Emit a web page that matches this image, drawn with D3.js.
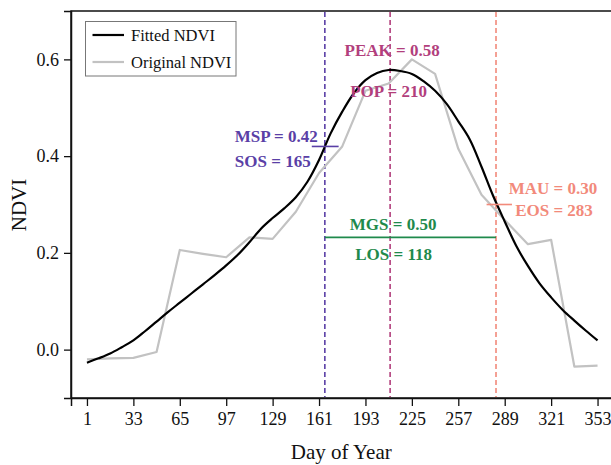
<!DOCTYPE html>
<html>
<head>
<meta charset="utf-8">
<script src="https://cdn.jsdelivr.net/npm/d3@7/dist/d3.min.js"></script>
<style>
  html, body { margin: 0; padding: 0; background: #fff; }
  svg { display: block; font-family: "Liberation Serif", "Times New Roman", serif; }
</style>
</head>
<body>
<svg id="chart" width="611" height="465"></svg>
<script>
// Original 16-day composite NDVI
const origDays = [1, 17, 33, 49, 65, 81, 97, 113, 129, 145, 161, 177, 193, 209, 225, 241, 257, 273, 289, 305, 321, 337, 353];
const origNdvi = [-0.020, -0.018, -0.017, -0.005, 0.206, 0.198, 0.191, 0.232, 0.229, 0.285, 0.365, 0.420, 0.535, 0.550, 0.600, 0.570, 0.415, 0.320, 0.268, 0.218, 0.227, -0.035, -0.033];

// Fitted NDVI curve (8-day steps)
const fitDays = [1, 9, 17, 25, 33, 41, 49, 57, 65, 73, 81, 89, 97, 105, 113, 121, 129, 137, 145, 153, 161, 169, 177, 185, 193, 201, 209, 217, 225, 233, 241, 249, 257, 265, 273, 281, 289, 297, 305, 313, 321, 329, 337, 345, 353];
const fitNdvi = [-0.027, -0.018, -0.008, 0.005, 0.019, 0.038, 0.058, 0.078, 0.097, 0.116, 0.135, 0.154, 0.174, 0.196, 0.222, 0.250, 0.272, 0.292, 0.315, 0.347, 0.392, 0.447, 0.492, 0.530, 0.557, 0.572, 0.578, 0.576, 0.570, 0.555, 0.535, 0.508, 0.472, 0.434, 0.378, 0.318, 0.265, 0.214, 0.173, 0.137, 0.108, 0.082, 0.060, 0.039, 0.019];

// Phenology metrics
const sos = 165, msp = 0.42;
const pop = 210, peak = 0.58;
const eos = 283, mau = 0.30;
const los = 118, mgs = 0.50;

const xTicks = [1, 33, 65, 97, 129, 161, 193, 225, 257, 289, 321, 353];
const yTicks = [0.0, 0.2, 0.4, 0.6];

const colSos = "#5a3fa6", colPop = "#b23f7d", colEos = "#f28a7b", colLos = "#1f8a4c";

const svg = d3.select("#chart");
const plotL = 71, plotT = 11, plotB = 398, plotR = 613.5;

const x = d3.scaleLinear().domain([-10, 364]).range([plotL, plotR]);
const y = d3.scaleLinear().domain([-0.1, 0.7]).range([plotB, plotT]);

// Frame
svg.append("rect")
  .attr("x", plotL).attr("y", plotT)
  .attr("width", plotR - plotL).attr("height", plotB - plotT)
  .attr("fill", "none").attr("stroke", "#111").attr("stroke-width", 1.5);

// Axes
const xAxis = svg.append("g")
  .attr("transform", `translate(0,${plotB})`)
  .call(d3.axisBottom(x).tickValues(xTicks).tickSize(8).tickPadding(6).tickFormat(d3.format("d")));
const yAxis = svg.append("g")
  .attr("transform", `translate(${plotL},0)`)
  .call(d3.axisLeft(y).tickValues(yTicks).tickSize(7).tickPadding(5).tickFormat(d3.format(".1f")));
[xAxis, yAxis].forEach(g => {
  g.select(".domain").attr("stroke", "#111").attr("stroke-width", 1.5);
  g.selectAll(".tick line").attr("stroke", "#111").attr("stroke-width", 1.3);
  g.selectAll(".tick text").attr("fill", "#111")
    .style("font-family", "'Liberation Serif', serif").style("font-size", "18px");
});

// Axis titles
svg.append("text")
  .attr("x", (plotL + plotR) / 2 - 1).attr("y", 459)
  .attr("text-anchor", "middle").attr("font-size", 21).attr("fill", "#111")
  .text("Day of Year");
svg.append("text")
  .attr("transform", "translate(26,205) rotate(-90)")
  .attr("text-anchor", "middle").attr("font-size", 21).attr("fill", "#111")
  .text("NDVI");

// Vertical dashed markers
[[sos, colSos], [pop, colPop], [eos, colEos]].forEach(([d, c]) => {
  svg.append("line")
    .attr("x1", x(d)).attr("x2", x(d))
    .attr("y1", plotT + 1).attr("y2", plotB - 1)
    .attr("stroke", c).attr("stroke-width", 1.6)
    .attr("stroke-dasharray", "5,3");
});

// Original NDVI
const line = d3.line().x(d => x(d[0])).y(d => y(d[1]));
svg.append("path")
  .datum(origDays.map((d, i) => [d, origNdvi[i]]))
  .attr("d", line)
  .attr("fill", "none").attr("stroke", "#c2c2c2").attr("stroke-width", 2.2)
  .attr("stroke-linejoin", "round");

// Fitted NDVI
svg.append("path")
  .datum(fitDays.map((d, i) => [d, fitNdvi[i]]))
  .attr("d", line.curve(d3.curveCatmullRom))
  .attr("fill", "none").attr("stroke", "#000").attr("stroke-width", 2.2);

// Growing season length bar
const losY = 0.232;
svg.append("line")
  .attr("x1", x(sos)).attr("x2", x(sos + los))
  .attr("y1", y(losY)).attr("y2", y(losY))
  .attr("stroke", colLos).attr("stroke-width", 1.6);

// Threshold ticks at SOS / EOS
svg.append("line")
  .attr("x1", x(sos - 9)).attr("x2", x(sos + 9.5))
  .attr("y1", y(msp)).attr("y2", y(msp))
  .attr("stroke", colSos).attr("stroke-width", 1.6);
svg.append("line")
  .attr("x1", x(eos - 6.5)).attr("x2", x(eos + 11))
  .attr("y1", y(mau)).attr("y2", y(mau))
  .attr("stroke", colEos).attr("stroke-width", 1.6);

// Labels
function label(txt, xPos, yPos, color, anchor) {
  svg.append("text")
    .attr("x", xPos).attr("y", yPos)
    .attr("text-anchor", anchor || "middle")
    .attr("font-size", 17).attr("font-weight", "bold")
    .attr("fill", color)
    .text(txt);
}
label(`MSP = ${msp.toFixed(2)}`, x(sos) - 90, 142, colSos, "start");
label(`SOS = ${sos}`, x(sos) - 90, 167, colSos, "start");
label(`PEAK = ${peak.toFixed(2)}`, x(pop) + 2, 56, colPop);
label(`POP = ${pop}`, x(pop) - 1.5, 97, colPop);
label(`MAU = ${mau.toFixed(2)}`, x(eos) + 57, 194, colEos);
label(`EOS = ${eos}`, x(eos) + 58, 216, colEos);
label(`MGS = ${mgs.toFixed(2)}`, x(pop) + 3, 230, colLos);
label(`LOS = ${los}`, x(pop) + 3.5, 260, colLos);

// Legend
const lg = svg.append("g");
lg.append("rect")
  .attr("x", 85.5).attr("y", 21.5).attr("width", 150.5).attr("height", 54.5)
  .attr("fill", "#fff").attr("stroke", "#777").attr("stroke-width", 1);
const legendItems = [["Fitted NDVI", "#000", 35], ["Original NDVI", "#c2c2c2", 62]];
legendItems.forEach(([name, c, ly]) => {
  lg.append("line")
    .attr("x1", 92.5).attr("x2", 124).attr("y1", ly).attr("y2", ly)
    .attr("stroke", c).attr("stroke-width", 2.2);
  lg.append("text")
    .attr("x", 131).attr("y", ly + 6)
    .attr("font-size", 16.5).attr("fill", "#111")
    .text(name);
});
</script>
</body>
</html>
